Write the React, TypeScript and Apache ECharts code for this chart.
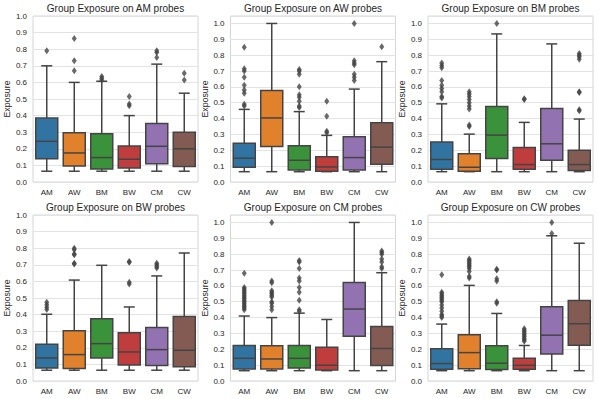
import React, { useEffect, useRef } from "react";
import * as echarts from "echarts";

const categories = ["AM", "AW", "BM", "BW", "CM", "CW"];
const panelTitles = [
  "Group Exposure on AM probes",
  "Group Exposure on AW probes",
  "Group Exposure on BM probes",
  "Group Exposure on BW probes",
  "Group Exposure on CM probes",
  "Group Exposure on CW probes",
];
const boxColors = ["#3274a1", "#e1812c", "#3a923a", "#c03d3e", "#9372b2", "#845b53"];
const yMaxes = [1.0, 1.047, 1.047, 1.0, 1.047, 1.047];

// [low whisker, Q1, median, Q3, high whisker] per category
const boxesAM = [
  [0.065, 0.14, 0.245, 0.385, 0.70],
  [0.065, 0.096, 0.175, 0.297, 0.60],
  [0.065, 0.078, 0.147, 0.29, 0.607],
  [0.065, 0.084, 0.137, 0.217, 0.40],
  [0.065, 0.11, 0.215, 0.352, 0.71],
  [0.065, 0.094, 0.2, 0.3, 0.535],
];
const outliersAM = [
  [0.79],
  [0.67, 0.73, 0.865],
  [0.615, 0.625, 0.635],
  [0.46, 0.47, 0.515],
  [0.75, 0.78, 0.79],
  [0.615, 0.655],
];

const boxesAW = [
  [0.065, 0.093, 0.15, 0.245, 0.458],
  [0.065, 0.224, 0.404, 0.577, 1.0],
  [0.065, 0.076, 0.137, 0.228, 0.444],
  [0.065, 0.068, 0.095, 0.16, 0.294],
  [0.065, 0.076, 0.154, 0.285, 0.586],
  [0.065, 0.112, 0.22, 0.374, 0.759],
];
const outliersAW = [
  [0.48, 0.49, 0.56, 0.58, 0.61, 0.66, 0.70, 0.715, 0.85],
  [],
  [0.47, 0.48, 0.51, 0.535, 0.55, 0.60, 0.68, 0.70, 0.71],
  [0.31, 0.32, 0.415, 0.51],
  [0.64, 0.66, 0.68, 0.74, 0.75, 0.765, 1.0],
  [0.853],
];

const boxesBM = [
  [0.065, 0.08, 0.142, 0.252, 0.493],
  [0.065, 0.068, 0.093, 0.178, 0.302],
  [0.065, 0.148, 0.296, 0.476, 0.934],
  [0.065, 0.08, 0.11, 0.218, 0.376],
  [0.065, 0.137, 0.241, 0.463, 0.871],
  [0.065, 0.072, 0.11, 0.2, 0.397],
];
const outliersBM = [
  [0.53, 0.54, 0.57, 0.59, 0.61, 0.64, 0.72, 0.735, 0.75],
  [0.35, 0.36, 0.46, 0.48, 0.50, 0.52, 0.54, 0.555, 0.57],
  [1.0],
  [0.52, 0.525],
  [],
  [0.45, 0.455, 0.565, 0.57, 0.775, 0.79, 0.80, 0.81],
];

const boxesBW = [
  [0.065, 0.078, 0.139, 0.221, 0.402],
  [0.065, 0.076, 0.159, 0.303, 0.608],
  [0.065, 0.139, 0.225, 0.375, 0.697],
  [0.065, 0.096, 0.175, 0.291, 0.446],
  [0.065, 0.094, 0.189, 0.323, 0.633],
  [0.065, 0.086, 0.185, 0.388, 0.771],
];
const outliersBW = [
  [0.43, 0.445, 0.46, 0.475],
  [0.705, 0.71, 0.76, 0.765, 0.79, 0.80],
  [],
  [0.585, 0.595, 0.715, 0.72],
  [0.68, 0.69, 0.70, 0.71],
  [],
];

const boxesCM = [
  [0.065, 0.076, 0.143, 0.224, 0.41],
  [0.065, 0.076, 0.139, 0.222, 0.40],
  [0.065, 0.082, 0.143, 0.224, 0.428],
  [0.065, 0.07, 0.1, 0.213, 0.388],
  [0.065, 0.283, 0.454, 0.622, 1.0],
  [0.065, 0.097, 0.205, 0.344, 0.683],
];
const outliersCM = [
  [0.45, 0.46, 0.47, 0.48, 0.49, 0.50, 0.51, 0.52, 0.53, 0.54, 0.55, 0.56, 0.57, 0.58, 0.59, 0.68],
  [0.45, 0.47, 0.49, 0.50, 0.53, 0.54, 0.55, 0.56, 0.57, 0.62, 0.63, 1.0],
  [0.44, 0.45, 0.51, 0.56, 0.59, 0.63, 0.65, 0.71, 0.75, 0.76],
  [],
  [],
  [0.71, 0.72, 0.75, 0.77, 0.80, 0.81, 0.82],
];

const boxesCW = [
  [0.065, 0.074, 0.11, 0.203, 0.359],
  [0.065, 0.078, 0.179, 0.291, 0.603],
  [0.065, 0.072, 0.112, 0.222, 0.426],
  [0.065, 0.074, 0.099, 0.143, 0.224],
  [0.065, 0.171, 0.289, 0.468, 0.916],
  [0.065, 0.226, 0.361, 0.508, 0.869],
];
const outliersCW = [
  [0.40, 0.41, 0.42, 0.44, 0.46, 0.48, 0.50, 0.51, 0.52, 0.53, 0.54, 0.55, 0.56, 0.67],
  [0.65, 0.66, 0.69, 0.71, 0.72, 0.73, 0.74, 0.75, 0.76, 0.77],
  [0.49, 0.50, 0.63, 0.645, 0.70, 0.705],
  [0.25, 0.26, 0.27, 0.28, 0.29, 0.30, 0.31, 0.32, 0.33],
  [0.93, 1.0],
  [],
];

const allBoxes = [boxesAM, boxesAW, boxesBM, boxesBW, boxesCM, boxesCW];
const allOutliers = [outliersAM, outliersAW, outliersBM, outliersBW, outliersCM, outliersCW];

const GRAY = "#444444";
const TEXT = "#262626";
const FONT = "Liberation Sans, Arial, Helvetica, sans-serif";

const gridLefts = [33, 230.5, 428];
const gridTops = [16, 215];
const GW = 165;
const GH = 166;

export default function App() {
  const ref = useRef<HTMLDivElement>(null);
  useEffect(() => {
    if (!ref.current) return;
    const chart = echarts.init(ref.current, null, { renderer: "svg" });
    const grids: any[] = [];
    const xAxes: any[] = [];
    const yAxes: any[] = [];
    const series: any[] = [];
    const titles: any[] = [];
    for (let p = 0; p < 6; p++) {
      const col = p % 3;
      const row = Math.floor(p / 3);
      const left = gridLefts[col];
      const top = gridTops[row];
      grids.push({
        left,
        top,
        width: GW,
        height: GH,
        show: true,
        borderColor: "#d6d6d6",
        borderWidth: 1,
        backgroundColor: "#ffffff",
      });
      titles.push({
        text: panelTitles[p],
        left: left + GW / 2,
        top: top - 12.5,
        textAlign: "center",
        textStyle: { fontFamily: FONT, fontSize: 10, fontWeight: "normal", color: TEXT },
        padding: 0,
      });
      xAxes.push({
        type: "category",
        gridIndex: p,
        data: categories,
        boundaryGap: true,
        axisLine: { show: false },
        axisTick: { show: false },
        splitLine: { show: false },
        axisLabel: { fontFamily: FONT, fontSize: 8, color: TEXT, margin: 6 },
      });
      yAxes.push({
        type: "value",
        gridIndex: p,
        min: 0,
        max: yMaxes[p],
        interval: 0.1,
        axisLine: { show: false },
        axisTick: { show: false },
        splitLine: { show: true, lineStyle: { color: "#e3e3e3", width: 1 } },
        axisLabel: {
          fontFamily: FONT,
          fontSize: 8,
          color: TEXT,
          margin: 6,
          showMaxLabel: yMaxes[p] <= 1.0001,
          formatter: (v: number) => (v > 1.0001 ? "" : v.toFixed(1)),
        },
        name: "Exposure",
        nameLocation: "middle",
        nameRotate: 90,
        nameGap: 21,
        nameTextStyle: { fontFamily: FONT, fontSize: 8.8, color: TEXT },
      });
      const boxes = allBoxes[p];
      const boxData = boxes.map((b, i) => [i, b[0], b[1], b[2], b[3], b[4]]);
      series.push({
        type: "custom",
        xAxisIndex: p,
        yAxisIndex: p,
        data: boxData,
        encode: { x: 0, y: [1, 2, 3, 4, 5] },
        z: 2,
        renderItem: (params: any, api: any) => {
          const x = api.value(0);
          const lo = api.coord([x, api.value(1)]);
          const q1 = api.coord([x, api.value(2)]);
          const md = api.coord([x, api.value(3)]);
          const q3 = api.coord([x, api.value(4)]);
          const hi = api.coord([x, api.value(5)]);
          const bw = api.size([1, 0])[0] * 0.8;
          const cx = lo[0];
          const half = bw / 2;
          const cap = bw / 4;
          const ls = { stroke: GRAY, lineWidth: 1.5 };
          return {
            type: "group",
            children: [
              { type: "line", shape: { x1: cx, y1: lo[1], x2: cx, y2: q1[1] }, style: ls },
              { type: "line", shape: { x1: cx, y1: q3[1], x2: cx, y2: hi[1] }, style: ls },
              { type: "line", shape: { x1: cx - cap, y1: lo[1], x2: cx + cap, y2: lo[1] }, style: ls },
              { type: "line", shape: { x1: cx - cap, y1: hi[1], x2: cx + cap, y2: hi[1] }, style: ls },
              {
                type: "rect",
                shape: { x: cx - half, y: q3[1], width: bw, height: q1[1] - q3[1] },
                style: { fill: boxColors[params.dataIndex], stroke: GRAY, lineWidth: 1.5 },
              },
              { type: "line", shape: { x1: cx - half, y1: md[1], x2: cx + half, y2: md[1] }, style: ls },
            ],
          };
        },
      });
      const pts: number[][] = [];
      allOutliers[p].forEach((arr, i) => arr.forEach((v) => pts.push([i, v])));
      series.push({
        type: "scatter",
        xAxisIndex: p,
        yAxisIndex: p,
        data: pts.map((d) => [categories[d[0]], d[1]]),
        symbol: "diamond",
        symbolSize: [5, 7],
        itemStyle: { color: GRAY },
        z: 3,
      });
    }
    chart.setOption({
      animation: false,
      backgroundColor: "#ffffff",
      title: titles,
      grid: grids,
      xAxis: xAxes,
      yAxis: yAxes,
      series,
    });
    return () => chart.dispose();
  }, []);
  return (
    <div
      ref={ref}
      style={{ position: "fixed", left: 0, top: 0, width: 598, height: 399, background: "#fff" }}
    />
  );
}
